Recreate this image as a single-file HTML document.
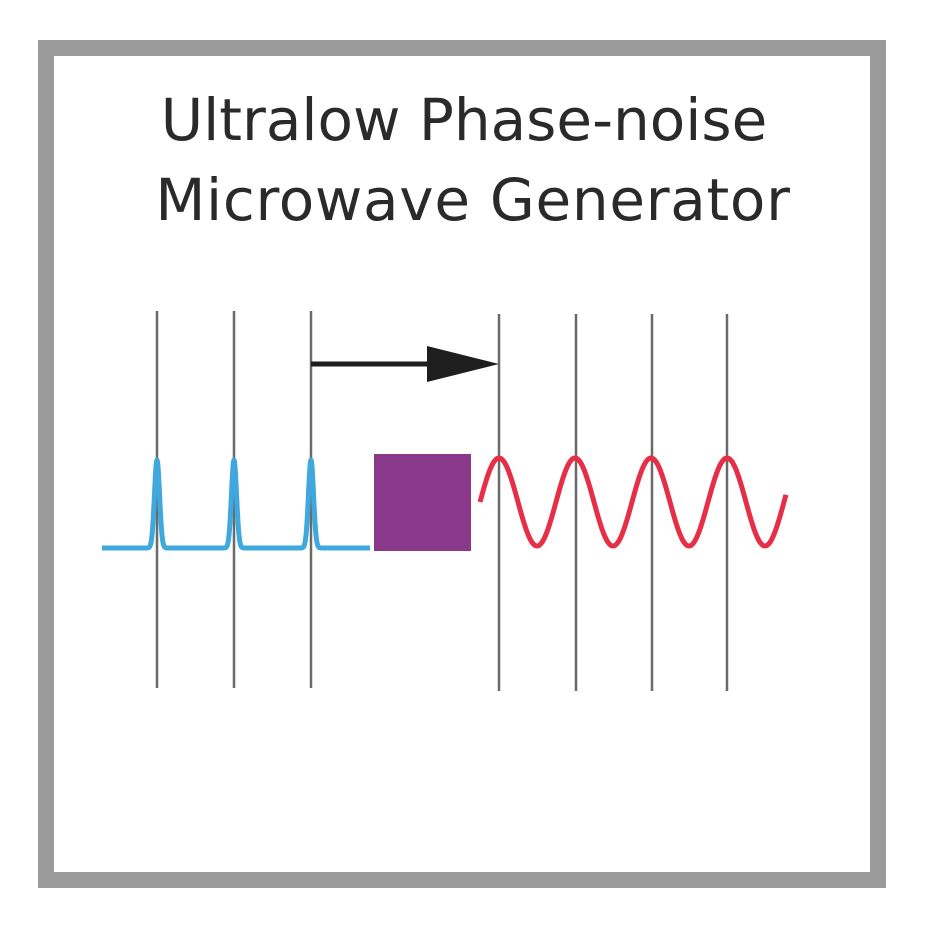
<!DOCTYPE html>
<html><head><meta charset="utf-8"><style>
html,body{margin:0;padding:0;background:#fff;}
svg{display:block;}
</style></head><body>
<svg id="fig" width="942" height="928" viewBox="0 0 942 928" xmlns="http://www.w3.org/2000/svg">
<rect x="46" y="48" width="832" height="832" fill="#fff" stroke="#9b9b9b" stroke-width="16"/>
<text x="464" y="140" text-anchor="middle" font-family="DejaVu Sans, Liberation Sans, sans-serif" font-size="58" fill="#2a2a2a">Ultralow Phase-noise</text>
<text x="473" y="220" text-anchor="middle" font-family="DejaVu Sans, Liberation Sans, sans-serif" font-size="58" letter-spacing="0.7" fill="#2a2a2a">Microwave Generator</text>
<g id="vlines"></g>
<line x1="311" y1="364" x2="432" y2="364" stroke="#1e1e1e" stroke-width="5"/>
<polygon points="427,346 499,364 427,382" fill="#1e1e1e"/>
<path id="pulses" fill="none" stroke="#3fa8dd" stroke-width="5" stroke-linejoin="round"/>
<rect x="374" y="454" width="97" height="97" fill="#8a3889"/>
<path id="wave" fill="none" stroke="#e62e47" stroke-width="5"/>
</svg>
<script>
const pulseX = [157, 234, 311];
const waveX = [499, 576, 652, 727];
const g = document.getElementById('vlines');
pulseX.concat(waveX).forEach((x, i) => {
  const l = document.createElementNS('http://www.w3.org/2000/svg', 'line');
  const top = i < 3 ? 311 : 314;
  l.setAttribute('x1', x); l.setAttribute('x2', x);
  l.setAttribute('y1', top); l.setAttribute('y2', top + 377);
  l.setAttribute('stroke', '#6a6a6a'); l.setAttribute('stroke-width', '2.5');
  
  
  g.appendChild(l);
});
let d = '';
for (let x = 102; x <= 370; x += 0.5) {
  let y = 548;
  pulseX.forEach(p => { y -= 88 * Math.exp(-Math.pow((x - p) / 3.6, 2)); });
  d += (d ? 'L' : 'M') + x + ' ' + y.toFixed(2);
}
document.getElementById('pulses').setAttribute('d', d);
let w = '';
const period = (waveX[waveX.length - 1] - waveX[0]) / (waveX.length - 1);
for (let x = 480; x <= 786; x += 1) {
  const y = 502 - 44 * Math.cos(2 * Math.PI * (x - waveX[0]) / period);
  w += (w ? 'L' : 'M') + x + ' ' + y.toFixed(2);
}
document.getElementById('wave').setAttribute('d', w);
</script>
</body></html>
